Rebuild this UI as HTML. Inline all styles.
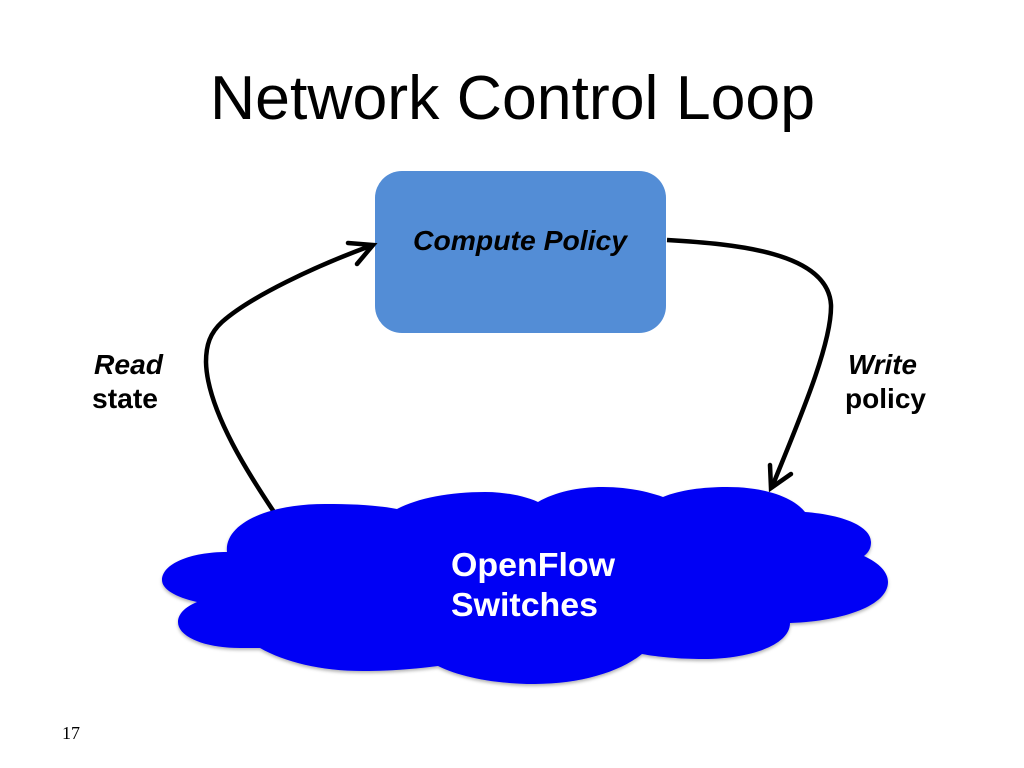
<!DOCTYPE html>
<html>
<head>
<meta charset="utf-8">
<style>
html,body{margin:0;padding:0;background:#fff;}
svg{display:block;}
text{font-family:"Liberation Sans",Arial,sans-serif;}
</style>
</head>
<body>
<svg width="1024" height="768" viewBox="0 0 1024 768" xmlns="http://www.w3.org/2000/svg">
<defs>
<filter id="s" x="-5%" y="-5%" width="110%" height="115%"><feDropShadow dx="0" dy="2" stdDeviation="1.5" flood-color="#000" flood-opacity="0.3"/></filter>
</defs>
<rect width="1024" height="768" fill="#fff"/>
<text x="210" y="119" font-size="62.5" textLength="605" lengthAdjust="spacingAndGlyphs" fill="#000">Network Control Loop</text>
<rect x="375" y="171" width="291" height="162" rx="27" fill="#538dd6"/>
<text x="413" y="250" font-size="28" font-weight="bold" font-style="italic" textLength="214" lengthAdjust="spacingAndGlyphs" fill="#000">Compute Policy</text>
<path d="M274 512C254 482 207 412 206 362C206 345 210 333 222 322C250 297 315 266 373 245" fill="none" stroke="#000" stroke-width="4.5"/>
<path d="M348 243L373 245L357 264" fill="none" stroke="#000" stroke-width="4.5" stroke-linecap="round"/>
<path d="M667 240C735 244 828 252 831 305C832 345 797 425 772 487" fill="none" stroke="#000" stroke-width="4.5"/>
<path d="M770 465L771 488L791 474" fill="none" stroke="#000" stroke-width="4.5" stroke-linecap="round"/>
<text x="94" y="374" font-size="28" font-weight="bold" font-style="italic" textLength="69" lengthAdjust="spacingAndGlyphs">Read</text>
<text x="92" y="408" font-size="28" font-weight="bold" textLength="66" lengthAdjust="spacingAndGlyphs">state</text>
<text x="848" y="374" font-size="28" font-weight="bold" font-style="italic" textLength="69" lengthAdjust="spacingAndGlyphs">Write</text>
<text x="845" y="408" font-size="28" font-weight="bold" textLength="81" lengthAdjust="spacingAndGlyphs">policy</text>
<path fill="#0000f5" filter="url(#s)" d="M227 552C224 525 265 504 325 504C352 504 376 505 397 509C418 498 450 492 485 492C505 492 525 496 538 502C555 492 578 487 603 487C626 487 646 491 663 497C680 490 703 487 727 487C765 487 793 497 805 512C845 515 871 527 871 542C871 548 869 552 864 556C879 563 888 572 888 582C888 605 845 621 790 623C790 645 750 659 703 659C680 659 658 657 642 654C620 672 580 684 535 684C495 684 460 677 438 666C415 669 390 671 363 671C320 671 285 662 260 648C250 648 245 648 240 648C205 648 178 637 178 622C178 614 185 607 197 602C175 597 162 589 162 580C162 564 190 552 227 552Z"/>
<text x="451" y="576" font-size="33" font-weight="bold" textLength="164" lengthAdjust="spacingAndGlyphs" fill="#fff">OpenFlow</text>
<text x="451" y="616" font-size="33" font-weight="bold" textLength="147" lengthAdjust="spacingAndGlyphs" fill="#fff">Switches</text>
<text x="71" y="739" font-size="18" text-anchor="middle" style="font-family:'Liberation Serif',serif">17</text>
</svg>
</body>
</html>
